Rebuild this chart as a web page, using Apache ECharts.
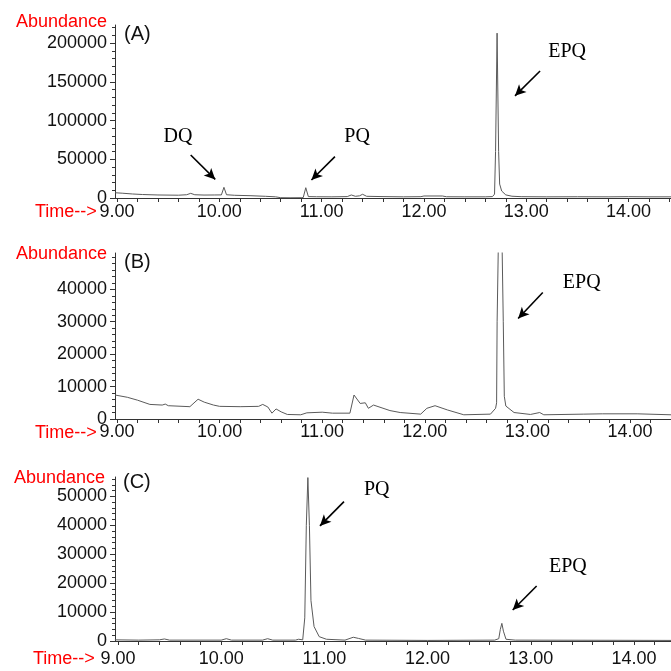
<!DOCTYPE html>
<html>
<head>
<meta charset="utf-8">
<script src="https://cdn.jsdelivr.net/npm/echarts@6/dist/echarts.min.js"></script>
<style>
  html, body { margin: 0; padding: 0; background: #fff; }
  #chart { width: 671px; height: 671px; }
</style>
</head>
<body>
<div id="chart"></div>
<script>
// chromatogram (A)
const timeA = [8.98, 9.05, 9.15, 9.25, 9.4, 9.6, 9.68, 9.72, 9.76, 9.85, 9.95, 10.02, 10.045, 10.07, 10.15, 10.3, 10.45, 10.55, 10.6, 10.7, 10.8,
  10.82, 10.845, 10.87, 10.95, 11.1, 11.25, 11.29, 11.33, 11.37, 11.4, 11.44, 11.6, 11.8, 11.97, 12.0, 12.18, 12.22, 12.4, 12.6,
  12.67, 12.69, 12.70, 12.715, 12.73, 12.74, 12.76, 12.80, 12.86, 12.95, 13.2, 13.5, 13.8, 14.0, 14.2, 14.42];
const abundA = [6800, 6200, 5200, 4500, 3900, 3600, 4200, 6000, 4200, 3800, 3900, 4000, 13800, 4200, 3500, 3000, 2200, 1500, 400, 300, 400,
  600, 13300, 1800, 1600, 1500, 1800, 3900, 2200, 2800, 4800, 2200, 1800, 1500, 1700, 2600, 2600, 1600, 1500, 1500,
  1800, 5000, 60000, 213000, 60000, 18000, 9000, 4000, 2300, 1700, 1500, 1600, 1500, 1700, 1500, 1500];

// chromatogram (B)
const timeB = [8.98, 9.1, 9.2, 9.32, 9.44, 9.47, 9.5, 9.71, 9.79, 9.85, 9.94, 10.0, 10.2, 10.38, 10.42, 10.47, 10.51, 10.55, 10.6, 10.66,
  10.79, 10.85, 11.0, 11.1, 11.27, 11.31, 11.37, 11.42, 11.45, 11.5, 11.66, 11.76, 11.96, 12.02, 12.1, 12.22, 12.38, 12.64,
  12.69, 12.70, 12.705, 12.735, 12.765, 12.775, 12.79, 12.87, 13.03, 13.12, 13.16, 13.55, 13.73, 14.07, 14.40];
const abundB = [7400, 6700, 5800, 4500, 4300, 4600, 4100, 3800, 6100, 5200, 4300, 3900, 3800, 3900, 4500, 3700, 1800, 3100, 2200, 1400,
  1300, 1900, 2100, 1800, 1800, 7400, 4800, 5000, 3300, 4300, 2600, 2000, 1500, 3300, 4100, 2800, 1300, 1500,
  3300, 5000, 30000, 90000, 30000, 7000, 4000, 2000, 1400, 2000, 1300, 1500, 1600, 1600, 1300];

// chromatogram (C)
const timeC = [8.97, 9.2, 9.4, 9.45, 9.5, 10.0, 10.05, 10.1, 10.4, 10.45, 10.5, 10.72, 10.75, 10.79, 10.81, 10.825, 10.84, 10.855, 10.87,
  10.9, 10.95, 11.02, 11.2, 11.28, 11.33, 11.4, 12.0, 12.65, 12.69, 12.705, 12.72, 12.735, 12.76, 12.85, 14.36];
const abundC = [400, 300, 400, 700, 300, 300, 800, 300, 300, 800, 300, 300, 600, 400, 8000, 40000, 56500, 40000, 14000,
  5000, 1500, 600, 300, 1300, 900, 300, 200, 300, 800, 4000, 6100, 3400, 600, 300, 200];

// tick labels
const timeTicks = [9, 10, 11, 12, 13, 14];
const yTicksA = [0, 50000, 100000, 150000, 200000];
const yTicksB = [0, 10000, 20000, 30000, 40000];
const yTicksC = [0, 10000, 20000, 30000, 40000, 50000];

// peak annotations: [name, text time, text abundance, arrow from t, from y, to t, to y]
const notesA = [
  ['DQ', 9.596, 78800, 9.72, 55500, 9.96, 24000],
  ['PQ', 11.346, 78800, 11.13, 53400, 10.90, 23300],
  ['EPQ', 13.40, 189000, 13.135, 164000, 12.89, 132000]
];
const notesB = [
  ['EPQ', 13.53, 41900, 13.15, 39000, 12.91, 31000]
];
const notesC = [
  ['PQ', 11.507, 52300, 11.19, 48200, 10.957, 39800],
  ['EPQ', 13.36, 25700, 13.057, 19000, 12.825, 10700]
];

function steps(from, to, step) {
  const out = [];
  for (let v = from; v <= to + 1e-9; v += step) out.push(+v.toFixed(4));
  return out;
}

const chart = echarts.init(document.getElementById('chart'), null, { renderer: 'canvas' });

const fontSans = 'Liberation Sans, Arial, sans-serif';
const fontSerif = 'Liberation Serif, Times New Roman, serif';
const axisColor = '#333';

const panels = [
  { time: timeA, abund: abundA, notes: notesA, yTicks: yTicksA, yMax: 223500, minor: 10000, xMin: 8.98, xMax: 14.415,
    grid: { left: 115, top: 25, right: 0, height: 173 }, labelMargin: 5 },
  { time: timeB, abund: abundB, notes: notesB, yTicks: yTicksB, yMax: 51200, minor: 2000, xMin: 8.98, xMax: 14.40,
    grid: { left: 115, top: 253, right: 0, height: 166 }, labelMargin: 4 },
  { time: timeC, abund: abundC, notes: notesC, yTicks: yTicksC, yMax: 56700, minor: 2000, xMin: 8.971, xMax: 14.359,
    grid: { left: 115, top: 477, right: 0, height: 164 }, labelMargin: 9 }
];

const grid = [], xAxis = [], yAxis = [], series = [];

panels.forEach((p, i) => {
  grid.push(p.grid);
  xAxis.push({
    type: 'value', gridIndex: i, min: p.xMin, max: p.xMax,
    axisLine: { show: true, onZero: false, lineStyle: { color: axisColor, width: 1 } },
    axisTick: { show: true, inside: false, length: 4, customValues: steps(9, 14.4, 0.2), lineStyle: { color: axisColor } },
    axisLabel: { show: true, customValues: timeTicks, margin: p.labelMargin, color: '#111', fontSize: 18, fontFamily: fontSans,
      formatter: v => v.toFixed(2) },
    splitLine: { show: false }
  });
  // main y axis (labels and major ticks)
  yAxis.push({
    type: 'value', gridIndex: i, min: 0, max: p.yMax, position: 'left',
    axisLine: { show: true, lineStyle: { color: axisColor, width: 1 } },
    axisTick: { show: true, inside: false, length: 5, customValues: p.yTicks, lineStyle: { color: axisColor } },
    axisLabel: { show: true, customValues: p.yTicks, margin: 8, color: '#111', fontSize: 18, fontFamily: fontSans,
      formatter: v => String(Math.round(v)) },
    splitLine: { show: false }
  });
  // minor ticks
  yAxis.push({
    type: 'value', gridIndex: i, min: 0, max: p.yMax, position: 'left',
    axisLine: { show: false },
    axisTick: { show: true, inside: false, length: 3, customValues: steps(0, p.yMax, p.minor), lineStyle: { color: axisColor } },
    axisLabel: { show: false },
    splitLine: { show: false }
  });
  series.push({
    type: 'line', xAxisIndex: i, yAxisIndex: i * 2,
    data: p.time.map((t, k) => [t, p.abund[k]]),
    symbol: 'none', smooth: false, clip: true,
    lineStyle: { color: '#5a5a5a', width: 1 },
    markLine: {
      silent: true, animation: false,
      symbol: ['none', 'arrow'], symbolSize: [8, 11],
      lineStyle: { color: '#000', width: 1.6, type: 'solid' },
      label: { show: false },
      emphasis: { disabled: true },
      data: p.notes.map(n => [{ coord: [n[3], n[4]] }, { coord: [n[5], n[6]] }])
    },
    markPoint: {
      silent: true, animation: false,
      symbol: 'circle', symbolSize: 1,
      itemStyle: { color: 'rgba(0,0,0,0)' },
      label: { show: true, position: 'inside', formatter: '{b}', color: '#000', fontSize: 20, fontFamily: fontSerif },
      data: p.notes.map(n => ({ name: n[0], coord: [n[1], n[2]] }))
    }
  });
});

const red = '#ff0000';
function txt(x, y, text, color, align, size) {
  return { type: 'text', x: x, y: y, silent: true,
    style: { text: text, fill: color, font: size + 'px ' + fontSans, textAlign: align, textVerticalAlign: 'middle' } };
}

const option = {
  animation: false,
  backgroundColor: '#fff',
  grid: grid,
  xAxis: xAxis,
  yAxis: yAxis,
  series: series,
  graphic: [
    txt(107, 22, 'Abundance', red, 'right', 18),
    txt(107, 254, 'Abundance', red, 'right', 18),
    txt(105, 478, 'Abundance', red, 'right', 18),
    txt(35, 212, 'Time-->', red, 'left', 18),
    txt(35, 433, 'Time-->', red, 'left', 18),
    txt(33, 659, 'Time-->', red, 'left', 18),
    txt(124, 34, '(A)', '#111', 'left', 20),
    txt(124, 262, '(B)', '#111', 'left', 20),
    txt(123, 482, '(C)', '#111', 'left', 20)
  ]
};

chart.setOption(option);
</script>
</body>
</html>
